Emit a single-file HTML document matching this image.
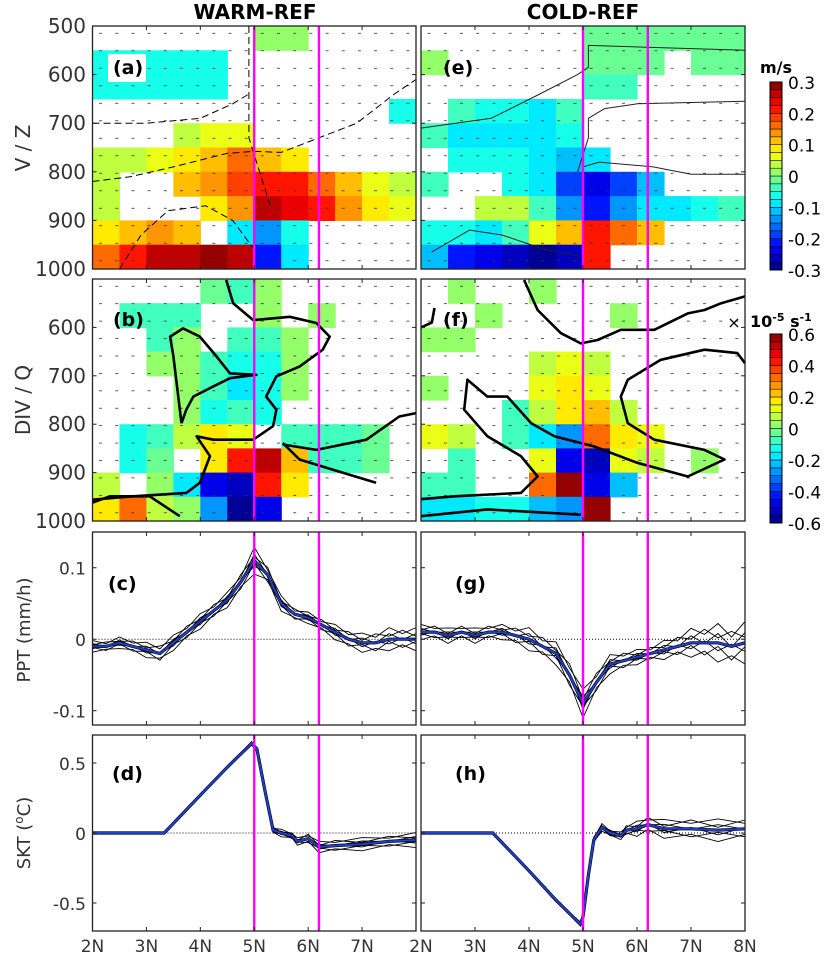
<!DOCTYPE html>
<html><head><meta charset="utf-8"><style>
html,body{margin:0;padding:0;background:#fff}
svg{display:block;font-family:"DejaVu Sans","Liberation Sans",sans-serif}
</style></head><body>
<svg id="fig" width="826" height="959" viewBox="0 0 826 959" xmlns="http://www.w3.org/2000/svg">
<text x="255" y="19" text-anchor="middle" font-weight="bold" font-size="20">WARM-REF</text>
<text x="583" y="19" text-anchor="middle" font-weight="bold" font-size="20">COLD-REF</text>
<text transform="translate(30,148) rotate(-90)" text-anchor="middle" font-size="20" fill="#333">V / Z</text>
<text transform="translate(30,400) rotate(-90)" text-anchor="middle" font-size="20" fill="#333">DIV / Q</text>
<text transform="translate(30,630) rotate(-90)" text-anchor="middle" font-size="18" fill="#333">PPT (mm/h)</text>
<text transform="translate(30,833) rotate(-90)" text-anchor="middle" font-size="18" fill="#333">SKT (<tspan baseline-shift="super" font-size="12">o</tspan>C)</text>
<g id="layer"></g>
</svg>
<script>
const NS="http://www.w3.org/2000/svg";
const lonCells=[2.25,2.75,3.25,3.75,4.25,4.75,5.25,5.75,6.25,6.75,7.25,7.75];
const pCells=[525,575,625,675,725,775,825,875,925,975];
const n=null;
const gridA=[
[n,n,n,n,n,n,0.02,0.02,n,n,n,n],
[-0.07,-0.07,-0.07,-0.07,-0.07,n,n,n,n,n,n,n],
[-0.07,-0.06,-0.07,-0.07,-0.06,n,n,n,n,n,n,n],
[n,n,n,n,n,n,n,n,n,n,n,-0.07],
[n,n,n,0.03,0.05,0.05,n,n,n,n,n,n],
[0.03,0.04,0.06,0.09,0.12,0.15,0.12,0.08,n,n,n,n],
[0.03,n,n,0.1,0.14,0.18,0.22,0.22,0.17,0.1,0.06,0.03],
[0.03,n,n,n,0.08,0.14,0.25,0.24,0.2,0.14,0.09,0.05],
[0.08,0.12,0.14,0.12,n,-0.08,-0.15,-0.06,n,n,n,n],
[0.15,0.22,0.26,0.27,0.28,0.26,-0.2,-0.1,n,n,n,n]];
const gridE=[
[n,n,n,n,n,n,-0.02,-0.02,-0.02,-0.02,-0.02,-0.02],
[0.02,n,n,n,n,n,-0.02,-0.02,-0.02,n,-0.02,-0.02],
[n,n,n,n,n,n,-0.03,-0.03,n,n,n,n],
[n,-0.05,-0.06,-0.07,-0.08,-0.05,n,n,n,n,n,n],
[-0.05,-0.08,-0.09,-0.08,-0.08,-0.06,n,n,n,n,n,n],
[n,-0.06,-0.07,-0.07,-0.1,-0.12,-0.1,n,n,n,n,n],
[-0.05,n,n,-0.06,-0.1,-0.18,-0.24,-0.18,-0.12,n,n,n],
[n,n,0.03,0.03,-0.05,-0.15,-0.22,-0.15,-0.1,-0.08,-0.07,-0.05],
[-0.06,-0.07,-0.08,-0.05,0.05,0.12,0.2,0.15,0.12,n,n,n],
[-0.12,-0.2,-0.24,-0.27,-0.28,-0.25,0.2,n,n,n,n,n]];
const gridB=[
[n,n,n,n,-0.05,-0.08,0.04,n,n,n,n,n],
[n,-0.08,-0.1,-0.06,n,n,0.04,n,0.04,n,n,n],
[n,n,-0.08,0.03,n,-0.1,-0.1,0.03,n,n,n,n],
[n,n,0.03,0.03,-0.08,-0.15,-0.15,0.03,n,n,n,n],
[n,n,n,0.03,-0.1,-0.2,-0.15,0.03,n,n,n,n],
[n,n,n,0.03,-0.12,-0.1,-0.15,n,n,n,n,n],
[n,-0.12,-0.08,0.05,0.15,0.1,n,-0.1,-0.1,-0.08,-0.05,n],
[n,-0.15,-0.05,n,0.15,0.4,0.5,0.2,-0.08,-0.1,-0.05,n],
[0.05,n,0.03,-0.2,-0.45,-0.5,0.4,0.15,n,n,n,n],
[0.15,0.3,0.05,0.03,-0.3,-0.55,-0.45,n,n,n,n,n]];
const gridF=[
[n,0.04,n,n,0.04,n,n,n,n,n,n,n],
[n,n,0.04,n,n,n,n,0.04,n,n,n,n],
[0.04,0.04,n,n,n,n,n,n,n,n,n,n],
[n,n,n,n,0.05,0.1,0.08,n,n,n,n,n],
[0.03,n,n,n,0.1,0.15,0.12,n,n,n,n,n],
[n,n,n,-0.1,0.05,0.15,0.2,0.05,n,n,n,n],
[0.1,0.05,n,-0.1,-0.2,-0.3,0.3,0.15,0.1,n,n,n],
[n,-0.1,n,n,0.1,-0.45,-0.5,0.1,0.08,n,0.04,n],
[-0.1,-0.1,n,n,0.3,0.55,-0.45,-0.25,n,n,n,n],
[-0.2,-0.2,-0.15,-0.15,-0.25,-0.3,0.55,n,n,n,n,n]];
const lonLine=[2,2.25,2.5,2.75,3,3.25,3.5,3.75,4,4.25,4.5,4.75,5,5.25,5.5,5.75,6,6.25,6.5,6.75,7,7.25,7.5,7.75,8];
const pptWarm=[-0.01,-0.01,-0.005,-0.01,-0.015,-0.02,-0.005,0.01,0.025,0.04,0.055,0.08,0.11,0.09,0.05,0.035,0.03,0.02,0.01,0,-0.005,-0.005,0,0,0];
const pptWarmSpread=[0.006,0.006,0.006,0.007,0.008,0.01,0.008,0.008,0.008,0.008,0.008,0.01,0.014,0.01,0.008,0.007,0.006,0.007,0.008,0.01,0.01,0.012,0.012,0.012,0.012];
const pptCold=[0.01,0.01,0.005,0.01,0.005,0.01,0.01,0.005,0,-0.01,-0.02,-0.05,-0.09,-0.06,-0.035,-0.03,-0.025,-0.02,-0.015,-0.01,-0.005,-0.005,-0.005,-0.01,-0.005];
const pptColdSpread=[0.008,0.008,0.008,0.008,0.008,0.008,0.008,0.01,0.012,0.012,0.012,0.015,0.015,0.012,0.01,0.01,0.008,0.008,0.01,0.012,0.015,0.018,0.02,0.02,0.022];
const sktWarmLon=[2,3.33,4,4.5,4.95,5.05,5.2,5.35,5.5,5.7,5.8,6,6.2,6.5,7,7.5,8];
const sktWarm=[0,0,0.27,0.47,0.64,0.6,0.3,0.02,0,-0.02,-0.06,-0.04,-0.1,-0.09,-0.08,-0.06,-0.05];
const sktWarmSpread=[0,0,0,0,0.01,0.01,0.02,0.02,0.02,0.02,0.02,0.03,0.03,0.035,0.035,0.035,0.04];
const sktColdLon=[2,3.33,4,4.5,4.95,5.0,5.1,5.2,5.35,5.5,5.7,5.8,6,6.2,6.5,7,7.5,8];
const sktCold=[0,0,-0.27,-0.48,-0.65,-0.6,-0.3,-0.05,0.04,0,-0.02,0.02,0.03,0.06,0.03,0.03,0.02,0.03];
const sktColdSpread=[0,0,0,0,0.01,0.01,0.02,0.02,0.02,0.02,0.02,0.03,0.04,0.05,0.05,0.06,0.06,0.06];
const xTickLabelsLeft=["2N","3N","4N","5N","6N","7N"];
const xTickLabelsRight=["2N","3N","4N","5N","6N","7N","8N"];
const pTicksA=[500,600,700,800,900,1000];
const pTicksB=[600,700,800,900,1000];
const pptTicks=[0.1,0,-0.1];
const sktTicks=[0.5,0,-0.5];
const cbar1Ticks=[0.3,0.2,0.1,0,-0.1,-0.2,-0.3];
const cbar2Ticks=[0.6,0.4,0.2,0,-0.2,-0.4,-0.6];
const contB1=[[2,956],[2.76,949],[3.74,942],[3.99,921],[4.18,866],[3.93,825],[4.24,832],[4.98,832],[5.35,804],[5.41,770],[5.22,743],[5.41,701],[5.84,681],[6.27,646],[6.4,619],[6.15,591],[5.66,578],[4.98,585],[4.61,550],[4.48,502]];
const contB2=[[3.65,798],[3.5,660],[3.44,619],[3.68,602],[3.99,619],[4.3,660],[4.55,695],[5.04,698],[4.55,705],[4.24,722],[3.87,743],[3.74,770],[3.65,798]];
const contB3=[[5.53,839],[5.84,873],[6.46,894],[7.26,921]];
const contB4=[[5.53,842],[6.15,853],[7.08,832],[7.69,784],[8,777]];
const contB5=[[2,962],[2.32,949],[3.06,949],[3.62,990]];
const contF1=[[3.91,502],[4.16,564],[4.59,612],[4.96,633],[5.27,626],[5.7,605],[6.32,605],[6.94,571],[7.25,564],[7.56,550],[8,536]];
const contF2=[[2,955],[2.62,949],[3.85,942],[4.16,908],[3.85,866],[3.23,825],[2.8,770],[2.86,708],[3.23,743],[3.6,743],[4.04,798],[4.47,825],[5.21,846],[6.01,880],[6.94,908],[7.62,873],[7.25,853],[6.32,832],[5.83,798],[5.7,743],[5.83,708],[6.44,667],[7.25,646],[7.86,653],[8,674]];
const contF3=[[2,990],[3.23,976],[4.96,987]];
const contF4=[[2,600],[2.2,590],[2.25,560]];
const contA1=[[2,820],[2.7,810],[3.5,790],[4.5,762],[5.0,758],[5.5,760],[6.2,730],[6.9,700],[7.6,640],[8,610]];
const contA2=[[4.9,500],[4.9,620],[4.9,730],[5.1,800],[5.3,870]];
const contA3=[[2.5,1000],[2.9,930],[3.4,880],[4.1,870],[4.6,900],[5.0,960]];
const contA4=[[2,700],[3,700],[4,690],[4.6,660],[4.9,640]];
const contE1=[[2,710],[3.3,690],[4.2,640],[4.9,600],[5.1,585],[5.1,540],[8,550]];
const contE2=[[5.0,790],[5.3,780],[6.3,790],[7.0,805],[8,805]];
const contE3=[[2.2,965],[2.9,920],[3.5,930],[4.3,960],[5.0,975]];
const contE4=[[4.9,800],[5.1,730],[5.1,690],[5.4,670],[6.0,660],[8,655]];

const layer=document.getElementById('layer');
function el(tag,attrs,parent){const e=document.createElementNS(NS,tag);for(const k in attrs)e.setAttribute(k,attrs[k]);(parent||layer).appendChild(e);return e;}
function jet(t){t=Math.max(0,Math.min(1,t));t=(Math.floor(t*24)+0.5)/24;const c=v=>Math.round(255*Math.max(0,Math.min(1,v)));return `rgb(${c(1.5-Math.abs(4*t-3))},${c(1.5-Math.abs(4*t-2))},${c(1.5-Math.abs(4*t-1))})`;}
const P={a:{x0:92.5,x1:416,y0:26,y1:269},b:{x0:92.5,x1:416,y0:279,y1:521},e:{x0:421,x1:745,y0:26,y1:269},f:{x0:421,x1:745,y0:279,y1:521},
c:{x0:92.5,x1:416,y0:532,y1:725,lo:-0.12,hi:0.15},g:{x0:421,x1:745,y0:532,y1:725,lo:-0.12,hi:0.15},
d:{x0:92.5,x1:416,y0:735,y1:931,lo:-0.7,hi:0.7},h:{x0:421,x1:745,y0:735,y1:931,lo:-0.7,hi:0.7}};
function X(pp,lon){return pp.x0+(lon-2)/6*(pp.x1-pp.x0);}
function Yp(pp,p){return pp.y0+(p-500)/500*(pp.y1-pp.y0);}
function Yv(pp,v){return pp.y1-(v-pp.lo)/(pp.hi-pp.lo)*(pp.y1-pp.y0);}

function heat(key,grid,lim){
  const pp=P[key];
  const g=el('g',{});
  
  
  grid.forEach((row,i)=>row.forEach((v,j)=>{
    if(v===null)return;
    const xa=X(pp,lonCells[j]-0.25),xb=X(pp,lonCells[j]+0.25),ya=Yp(pp,pCells[i]-25),yb=Yp(pp,pCells[i]+25);
    const r=el('rect',{x:xa,y:ya,width:xb-xa+0.6,height:yb-ya+0.6,fill:jet((v+lim)/(2*lim))},g);
    
    
  }));
  const q=el('g',{stroke:'#333','stroke-width':0.8},g);
  for(let lon=2.15;lon<8;lon+=0.3)for(let p=515;p<1000;p+=36){
    const x=X(pp,lon),y=Yp(pp,p);
    el('line',{x1:x-1.5,y1:y,x2:x+1.5,y2:y},q);
  }
}
function contour(key,pts,opts){
  const pp=P[key];
  const d=pts.map((q,i)=>(i?'L':'M')+X(pp,q[0]).toFixed(1)+','+Yp(pp,q[1]).toFixed(1)).join(' ');
  const c=el('path',Object.assign({d,fill:'none',stroke:'#000','stroke-linejoin':'round'},opts));
  
  
}
heat('a',gridA,0.3);heat('e',gridE,0.3);heat('b',gridB,0.6);heat('f',gridF,0.6);
[contA1,contA2,contA3,contA4].forEach(c=>contour('a',c,{'stroke-width':1,'stroke-dasharray':'7,4'}));
[contE1,contE2,contE3,contE4].forEach(c=>contour('e',c,{'stroke-width':1,stroke:'#222'}));
[contB1,contB2,contB3,contB4,contB5].forEach(c=>contour('b',c,{'stroke-width':2.6}));
[contF1,contF2,contF3,contF4].forEach(c=>contour('f',c,{'stroke-width':2.6}));

function lineSeries(key,lons,vals,spread){
  const pp=P[key];
  const g=el('g',{});
  
  
  [-1,-0.6,-0.2,0.3,0.7,1].forEach((k,mi)=>{
    const d=lons.map((l,i)=>{const s=spread[i]*(k+((i+mi)%2?0.35:-0.35));return (i?'L':'M')+X(pp,l).toFixed(1)+','+Yv(pp,vals[i]+s).toFixed(1);}).join(' ');
    const m=el('path',{d,fill:'none',stroke:'#000','stroke-width':0.9},g);
    
    
  });
  const d=lons.map((l,i)=>(i?'L':'M')+X(pp,l).toFixed(1)+','+Yv(pp,vals[i]).toFixed(1)).join(' ');
  const mb=el('path',{d,fill:'none',stroke:'#000','stroke-width':3.2},g);
  
  
  const m=el('path',{d,fill:'none',stroke:'#1f3fd0','stroke-width':2},g);
  
  
}
['c','g','d','h'].forEach(k=>{const pp=P[k];const z=el('line',{x1:pp.x0,x2:pp.x1,y1:Yv(pp,0),y2:Yv(pp,0),stroke:'#000','stroke-width':1,'stroke-dasharray':'1,2'});});
lineSeries('c',lonLine,pptWarm,pptWarmSpread);
lineSeries('g',lonLine,pptCold,pptColdSpread);
lineSeries('d',sktWarmLon,sktWarm,sktWarmSpread);
lineSeries('h',sktColdLon,sktCold,sktColdSpread);

const labels={a:'(a)',b:'(b)',c:'(c)',d:'(d)',e:'(e)',f:'(f)',g:'(g)',h:'(h)'};
const labelPos={a:[113,74],b:[113,326],c:[108,590],d:[112,780],e:[443,74],f:[443,326],g:[455,590],h:[455,780]};
for(const k in P){
  const pp=P[k];
  [5,6.2].forEach(l=>{const m=el('line',{x1:X(pp,l),x2:X(pp,l),y1:pp.y0,y2:pp.y1,stroke:'#ff00ff','stroke-width':2.4});});
  const fr=el('rect',{x:pp.x0,y:pp.y0,width:pp.x1-pp.x0,height:pp.y1-pp.y0,fill:'none',stroke:'#222','stroke-width':1.3});
  
  
  for(let l=2;l<=8;l++){const x=X(pp,l);el('line',{x1:x,x2:x,y1:pp.y1,y2:pp.y1-4,stroke:'#222'});el('line',{x1:x,x2:x,y1:pp.y0,y2:pp.y0+4,stroke:'#222'});}
  const lx=pp.x0===92.5;
  let ticks,yf;
  if(k==='a'||k==='e'){ticks=pTicksA;yf=v=>Yp(pp,v);}
  else if(k==='b'||k==='f'){ticks=pTicksB;yf=v=>Yp(pp,v);}
  else if(k==='c'||k==='g'){ticks=pptTicks;yf=v=>Yv(pp,v);}
  else {ticks=sktTicks;yf=v=>Yv(pp,v);}
  ticks.forEach(v=>{const y=yf(v);el('line',{x1:pp.x0,x2:pp.x0+4,y1:y,y2:y,stroke:'#222'});el('line',{x1:pp.x1,x2:pp.x1-4,y1:y,y2:y,stroke:'#222'});
    if(lx){const t=el('text',{x:86,y:y+7,'text-anchor':'end','font-size':(k==='a'||k==='b')?20:17,fill:'#333'});t.textContent=String(v);}});
  const [tx,ty]=labelPos[k];
  if(k==='a'){const bg=el('rect',{x:tx-5,y:ty-20,width:38,height:28,fill:'#fff'});}
  const t=el('text',{x:tx,y:ty,'font-size':19,'font-weight':'bold'});t.textContent=labels[k];
  
  
}
xTickLabelsLeft.forEach((s,i)=>{const t=el('text',{x:X(P.d,2+i),y:952,'text-anchor':'middle','font-size':17,fill:'#333'});t.textContent=s;});
xTickLabelsRight.forEach((s,i)=>{const t=el('text',{x:X(P.h,2+i),y:952,'text-anchor':'middle','font-size':17,fill:'#333'});t.textContent=s;});
const xm=el('text',{x:734,y:328,'text-anchor':'middle','font-size':16});xm.textContent='×';

function cbar(y0,y1,lim,ticks,name){
  const g=el('g',{});
  
  
  const N=24,h=(y1-y0)/N;
  for(let i=0;i<N;i++){el('rect',{x:770,y:y1-(i+1)*h,width:12,height:h,fill:jet((i+0.5)/N),stroke:'#000','stroke-width':0.5},g);}
  el('rect',{x:770,y:y0,width:12,height:y1-y0,fill:'none',stroke:'#000','stroke-width':1},g);
  ticks.forEach(v=>{const y=y1-(v+lim)/(2*lim)*(y1-y0);const t=el('text',{x:788,y:y+7,'font-size':17},g);t.textContent=String(v);});
}
cbar(82,270,0.3,cbar1Ticks,'colorbar-velocity');
cbar(334,523,0.6,cbar2Ticks,'colorbar-divergence');
const u1=el('text',{x:760,y:73,'font-size':16,'font-weight':'bold'});u1.textContent='m/s';
const u2=el('text',{x:750,y:327,'font-size':16,'font-weight':'bold'});u2.innerHTML='10<tspan baseline-shift="super" font-size="11">-5</tspan> s<tspan baseline-shift="super" font-size="11">-1</tspan>';
</script>
</body></html>
